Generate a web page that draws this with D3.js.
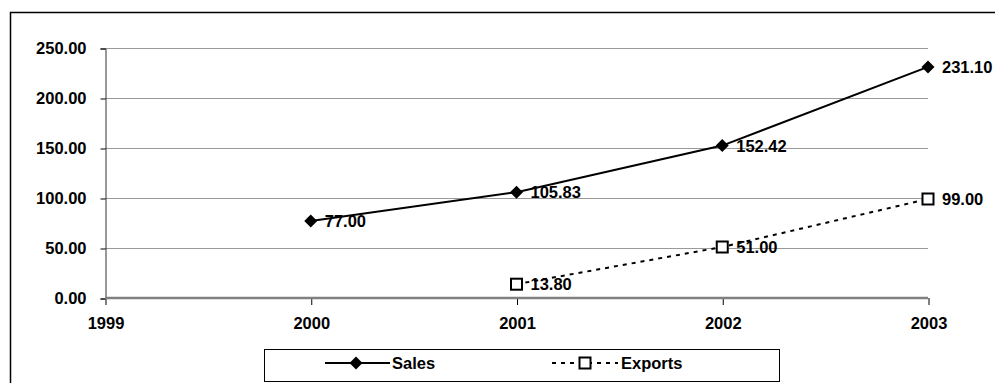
<!DOCTYPE html>
<html>
<head>
<meta charset="utf-8">
<script src="https://cdn.jsdelivr.net/npm/d3@7"></script>
<style>
  html, body { margin: 0; padding: 0; background: #fff; }
  svg { display: block; font-family: Arial, "Liberation Sans", sans-serif; }
  text { font-weight: bold; fill: #000; }
</style>
</head>
<body>
<svg id="chart" width="995" height="383"></svg>
<script>
// Years on the x axis and the two series plotted against them
const years = [1999, 2000, 2001, 2002, 2003];
const salesYears = [2000, 2001, 2002, 2003];
const salesValues = [77.00, 105.83, 152.42, 231.10];
const exportYears = [2001, 2002, 2003];
const exportValues = [13.80, 51.00, 99.00];
const yTicks = [0, 50, 100, 150, 200, 250];
const seriesNames = ["Sales", "Exports"];

const svg = d3.select("#chart");
const W = 995, H = 383;
const plot = { left: 105, right: 928, top: 48, bottom: 298 };

const x = d3.scaleLinear().domain([1999, 2003]).range([plot.left, plot.right]);
const y = d3.scaleLinear().domain([0, 250]).range([plot.bottom, plot.top]);

// Outer chart frame (runs past the right and bottom edges)
svg.append("rect")
  .attr("x", 10.5).attr("y", 12.5)
  .attr("width", W + 20).attr("height", H + 20)
  .attr("fill", "none").attr("stroke", "#000").attr("stroke-width", 1.5);

// Horizontal gridlines
svg.append("g").selectAll("line")
  .data(yTicks.filter(d => d > 0))
  .join("line")
  .attr("x1", plot.left).attr("x2", plot.right)
  .attr("y1", d => Math.round(y(d)) + 0.5).attr("y2", d => Math.round(y(d)) + 0.5)
  .attr("stroke", "#999").attr("stroke-width", 1);

// Y axis
const yAxis = d3.axisLeft(y).tickValues(yTicks).tickSize(5).tickPadding(14)
  .tickFormat(d3.format(".2f"));
const gy = svg.append("g").attr("transform", `translate(${plot.left + 0.5},0.5)`).call(yAxis);
gy.select(".domain").attr("stroke", "#333").attr("stroke-width", 1);
gy.selectAll(".tick line").attr("stroke", "#000");
gy.selectAll(".tick text").attr("font-size", 16.5).attr("font-weight", "bold")
  .attr("font-family", "Arial, 'Liberation Sans', sans-serif").attr("fill", "#000");

// X axis
const xAxis = d3.axisBottom(x).tickValues(years).tickSize(7).tickPadding(12)
  .tickFormat(d3.format("d"));
const gx = svg.append("g").attr("transform", `translate(0.5,${plot.bottom})`).call(xAxis);
gx.select(".domain").remove();
gx.selectAll(".tick line").attr("stroke", "#000");
gx.selectAll(".tick text").attr("font-size", 16.5).attr("font-weight", "bold")
  .attr("font-family", "Arial, 'Liberation Sans', sans-serif").attr("fill", "#000");
svg.append("line")
  .attr("x1", plot.left).attr("x2", plot.right)
  .attr("y1", plot.bottom).attr("y2", plot.bottom)
  .attr("stroke", "#808080").attr("stroke-width", 2.5);

const sales = salesYears.map((yr, i) => ({ yr, v: salesValues[i] }));
const exportsData = exportYears.map((yr, i) => ({ yr, v: exportValues[i] }));
const line = d3.line().x(d => x(d.yr)).y(d => y(d.v));

// Series lines
svg.append("path").datum(sales).attr("d", line)
  .attr("fill", "none").attr("stroke", "#000").attr("stroke-width", 2);
svg.append("path").datum(exportsData).attr("d", line)
  .attr("fill", "none").attr("stroke", "#000").attr("stroke-width", 2)
  .attr("stroke-dasharray", "4,5");

// Markers
const diamond = s => `M0,${-s}L${s},0L0,${s}L${-s},0Z`;
svg.append("g").selectAll("path").data(sales).join("path")
  .attr("transform", d => `translate(${x(d.yr)},${y(d.v)})`)
  .attr("d", diamond(6.5)).attr("fill", "#000");
svg.append("g").selectAll("rect").data(exportsData).join("rect")
  .attr("x", d => x(d.yr) - 5.5).attr("y", d => y(d.v) - 5.5)
  .attr("width", 11).attr("height", 11)
  .attr("fill", "#fff").attr("stroke", "#000").attr("stroke-width", 2);

// Value labels
const fmt = d3.format(".2f");
svg.append("g").selectAll("text").data(sales.concat(exportsData)).join("text")
  .attr("x", d => x(d.yr) + 14).attr("y", d => y(d.v))
  .attr("dy", "0.36em").attr("font-size", 16.5)
  .text(d => fmt(d.v));

// Legend
const lg = svg.append("g");
lg.append("rect").attr("x", 264.5).attr("y", 349.5).attr("width", 515).attr("height", 32)
  .attr("fill", "#fff").attr("stroke", "#000").attr("stroke-width", 1);
const ly = 363;
lg.append("line").attr("x1", 325).attr("x2", 390).attr("y1", ly).attr("y2", ly)
  .attr("stroke", "#000").attr("stroke-width", 2);
lg.append("path").attr("transform", `translate(356,${ly})`).attr("d", diamond(6.5)).attr("fill", "#000");
lg.append("text").attr("x", 392).attr("y", ly).attr("dy", "0.36em").attr("font-size", 16.5).text(seriesNames[0]);
lg.append("line").attr("x1", 552).attr("x2", 618).attr("y1", ly).attr("y2", ly)
  .attr("stroke", "#000").attr("stroke-width", 2).attr("stroke-dasharray", "4,5");
lg.append("rect").attr("x", 585 - 5.5).attr("y", ly - 5.5).attr("width", 11).attr("height", 11)
  .attr("fill", "#fff").attr("stroke", "#000").attr("stroke-width", 2);
lg.append("text").attr("x", 621).attr("y", ly).attr("dy", "0.36em").attr("font-size", 16.5).text(seriesNames[1]);
</script>
</body>
</html>
